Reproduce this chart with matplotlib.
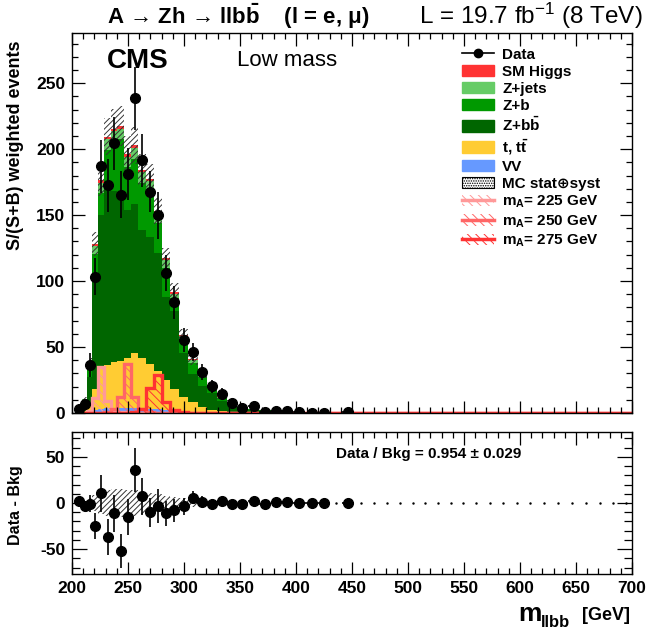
import numpy as np
import matplotlib
matplotlib.use("Agg")
import matplotlib.pyplot as plt
from matplotlib.patches import Patch
from matplotlib.lines import Line2D
from matplotlib.ticker import MultipleLocator

plt.rcParams['font.family'] = ['Liberation Sans', 'DejaVu Sans']
plt.rcParams['mathtext.fontset'] = 'custom'
plt.rcParams['mathtext.rm'] = 'Liberation Sans'
plt.rcParams['mathtext.bf'] = 'Liberation Sans:bold'
plt.rcParams['mathtext.it'] = 'Liberation Sans:italic'
plt.rcParams['axes.unicode_minus'] = False
plt.rcParams['hatch.linewidth'] = 0.7

# bin edges in m_llbb [GeV]
edges = [203.5, 209.0, 213.5, 218.2, 222.9, 228.9, 234.5, 240.5, 246.7, 252.7,
         259.2, 265.8, 273.2, 280.4, 287.5, 295.5, 303.9, 312.2, 320.8, 329.2,
         338.1, 347.0, 357.4, 367.3, 377.4, 387.2, 397.6, 408.0, 419.9, 430.0,
         441.0, 452.0, 464.0, 476.0, 487.0, 499.0, 510.0, 521.0, 533.0, 544.0,
         555.0, 567.0, 579.0, 591.0, 603.0, 615.0, 628.0, 640.0, 653.0, 665.0,
         677.0, 689.0, 700.0]

# background components (first 31 bins, rest empty)
vv = [0.1, 0.3, 0.5, 2, 3, 3.5, 3.5, 3.5, 3.5, 3.5, 3.5, 3.2, 3, 2.5, 2, 1.5,
      1, 0.7, 0.5, 0.3, 0.2, 0.1, 0.1, 0.05, 0.02, 0.01, 0, 0, 0, 0, 0]
ttbar = [0.3, 1.5, 6, 16, 30, 33, 35, 36, 38, 42, 38, 34, 29, 22.5, 16.5, 11,
         7, 3.5, 1.8, 1.2, 0.8, 0.5, 0.3, 0.2, 0.1, 0.05, 0.03, 0.02, 0.01, 0.01, 0]
zbb = [0.8, 6.0, 21, 85, 117, 135, 130, 126, 112, 113, 97, 96, 89, 63, 59, 33,
       21.5, 16.5, 12.5, 7.5, 5.2, 2.9, 1.8, 1.35, 0.7, 0.4, 0.22, 0.2, 0.13, 0.1, 0.07]
zb = [0.2, 2.0, 7.5, 17.5, 17, 28, 37, 42, 33, 34, 36, 34.5, 23, 22, 9.5, 10,
      8.5, 6.7, 4.5, 2.6, 1.8, 1.0, 0.6, 0.45, 0.2, 0.1, 0.07, 0.06, 0.04, 0.03, 0.02]
zjets = [0.1, 0.5, 1.7, 6, 7.5, 8, 8, 8, 7.7, 8.3, 8, 8, 7, 5.9, 3.4, 2.5,
         2.1, 1.8, 1.2, 0.8, 0.6, 0.35, 0.2, 0.15, 0.08, 0.04, 0.03, 0.02, 0.02, 0.01, 0.01]
smh = [0, 0.1, 0.3, 1.5, 1.9, 2, 2.1, 2.1, 2, 2, 2, 2, 1.9, 1.5, 1.2, 0.8,
       0.6, 0.4, 0.3, 0.2, 0.1, 0.05, 0, 0, 0, 0, 0, 0, 0, 0, 0]
bkg_unc = [1, 2, 5, 9, 12, 14, 15, 15, 14, 14, 12, 11, 10, 8, 7, 5, 4, 3, 2.5,
           2, 1.5, 1, 0.8, 0.6, 0.4, 0.3, 0.2, 0.2, 0.15, 0.1, 0.1]

# signal hypotheses
sig225 = [0, 0, 1.5, 11, 35, 9, 2, 1, 0.5]
sig250 = [0, 0, 0, 0, 0, 1, 3, 12, 37.5, 12, 3, 1]
sig275 = [0, 0, 0, 0, 0, 0, 0, 0, 0, 1, 3, 19, 28.5, 8, 2, 1]

# data (weighted), nan = empty bin
data = [3.3, 6.9, 36.3, 103.3, 187.0, 172.6, 204.3, 165.5, 181.0, 238.6, 191.6,
        167.8, 149.7, 106.1, 83.8, 55.3, 46.4, 31.0, 20.1, 14.7, 7.6, 3.8, 5.1,
        0.8, 1.8, 1.3, 0.4, 0.3, 0.3, np.nan, 0.6]
data_err = [2.5, 4, 9, 14, 20, 20, 20, 18, 19.5, 24, 20, 15.6, 18, 13.7, 12.4,
            9, 7, 6, 5, 4, 3, 2.5, 2.5, 1.5, 1.5, 1.5, 1, 1, 1, np.nan, 1]

e = np.array(edges)
nb = len(e) - 1
centers = 0.5 * (e[1:] + e[:-1])
widths = np.diff(e)


def full(vals):
    out = np.zeros(nb)
    out[:len(vals)] = vals
    return out


def full_nan(vals):
    out = np.full(nb, np.nan)
    out[:len(vals)] = vals
    return out


fig = plt.figure(figsize=(6.5, 6.3), dpi=100)
ax = fig.add_axes([72 / 650, 1 - 413 / 630, 560 / 650, 380 / 630])
ax2 = fig.add_axes([72 / 650, 1 - 574 / 630, 560 / 650, 142 / 630])

layers = [(vv, '#6699ff'), (ttbar, '#ffcc33'), (zbb, '#006600'),
          (zb, '#009900'), (zjets, '#66cc66'), (smh, '#ff3333')]
base = np.zeros(nb)
for vals, col in layers:
    top = base + full(vals)
    ax.stairs(top, e, baseline=base, fill=True, color=col, lw=0)
    base = top
total = base

n = len(bkg_unc)
unc = np.array(bkg_unc)
ax.bar(centers[:n], 2 * unc, bottom=total[:n] - unc, width=widths[:n],
       fill=False, hatch='//////', edgecolor='#333333', linewidth=0)

sig_cols = ['#ff9999', '#ff6666', '#ff3333']
for vals, col in zip([sig225, sig250, sig275], sig_cols):
    s = full(vals)
    ax.bar(centers, s, width=widths, facecolor='none', edgecolor=col,
           linewidth=0, hatch='\\\\\\\\')
    ax.stairs(s, e, color=col, lw=2.4)

d = full_nan(data)
derr = full_nan(data_err)
ax.errorbar(centers, d, yerr=derr, xerr=widths / 2, fmt='o', color='k',
            ms=7, elinewidth=1.2, capsize=0)

ax.set_xlim(200, 700)
ax.set_ylim(0, 288)

# lower panel: data - background
ax2.bar(centers[:n], 2 * unc, bottom=-unc, width=widths[:n],
        fill=False, hatch='//////', edgecolor='#333333', linewidth=0)
diff = d - total
has = ~np.isnan(d)
ax2.errorbar(centers[has], diff[has], yerr=derr[has], xerr=widths[has] / 2,
             fmt='o', color='k', ms=7, elinewidth=1.2, capsize=0)
ax2.plot(centers[~has], -total[~has], '.', color='k', ms=1.5)
ax2.set_xlim(200, 700)
ax2.set_ylim(-77, 77)

for a in (ax, ax2):
    a.xaxis.set_major_locator(MultipleLocator(50))
    a.xaxis.set_minor_locator(MultipleLocator(10))
    a.tick_params(which='both', direction='in', top=True, right=True,
                  labelsize=12.5, pad=5)
    a.tick_params(which='major', length=9, width=0.9)
    a.tick_params(which='minor', length=4.5, width=0.9)
    for sp in a.spines.values():
        sp.set_linewidth(1.0)
ax.yaxis.set_major_locator(MultipleLocator(50))
ax.yaxis.set_minor_locator(MultipleLocator(10))
ax.tick_params(labelbottom=False)
ax2.yaxis.set_major_locator(MultipleLocator(50))
ax2.yaxis.set_minor_locator(MultipleLocator(10))
ax2.tick_params(axis='y', which='major', length=11)
ax2.tick_params(axis='y', which='minor', length=6)
for a in (ax, ax2):
    for lab in a.get_xticklabels() + a.get_yticklabels():
        lab.set_fontweight('bold')

# legend
handles = [Line2D([], [], color='k', marker='o', ms=6, lw=1.2)]
labels = ['Data']
for lab, col in [('SM Higgs', '#ff3333'), ('Z+jets', '#66cc66'),
                 ('Z+b', '#009900'), (r'Z+b$\mathbf{\bar{b}}$', '#006600'),
                 (r't, t$\mathbf{\bar{t}}$', '#ffcc33'), ('VV', '#6699ff')]:
    handles.append(Patch(facecolor=col, edgecolor=col))
    labels.append(lab)
handles.append(Patch(facecolor='white', edgecolor='k', hatch='.......', lw=0.8))
labels.append('MC stat\u2295syst')
for mass, col in zip([225, 250, 275], sig_cols):
    handles.append((Patch(facecolor='none', edgecolor=col, hatch='\\\\\\\\', lw=0),
                    Line2D([], [], color=col, lw=2.5)))
    labels.append(r'm$_{\mathbf{A}}$= %d GeV' % mass)
leg = ax.legend(handles, labels, loc='upper left', bbox_to_anchor=(0.682, 0.982),
                frameon=False, borderpad=0, handlelength=2.15, handleheight=0.78,
                handletextpad=0.5, labelspacing=0.2,
                prop={'weight': 'bold', 'size': 11})

# text
fig.text(107 / 650, 1 - 24 / 630, r'A → Zh → llb$\mathbf{\bar{b}}$    (l = e, μ)',
         fontsize=16, fontweight='bold', ha='left', va='baseline')
fig.text(643 / 650, 1 - 24 / 630, r'L = 19.7 fb$^{-1}$ (8 TeV)',
         fontsize=17.5, ha='right', va='baseline')
fig.text(107 / 650, 1 - 68 / 630, 'CMS', fontsize=20, fontweight='bold',
         ha='left', va='baseline')
fig.text(237 / 650, 1 - 66 / 630, 'Low mass', fontsize=16, ha='left', va='baseline')
fig.text(336 / 650, 1 - 458 / 630, 'Data / Bkg = 0.954 ± 0.029', fontsize=11,
         fontweight='bold', ha='left', va='baseline')
fig.text(16 / 650, 1 - 40 / 630, 'S/(S+B) weighted events', rotation=90,
         fontsize=13, fontweight='bold', ha='center', va='top')
fig.text(16 / 650, 1 - 505 / 630, 'Data - Bkg', rotation=90, fontsize=11.5,
         fontweight='bold', ha='center', va='center')
fig.text(518 / 650, 1 - 621 / 630, 'm', fontsize=19, fontweight='bold',
         ha='left', va='baseline')
fig.text(541 / 650, 1 - 627 / 630, 'llbb', fontsize=12, fontweight='bold',
         ha='left', va='baseline')
fig.text(630 / 650, 1 - 620 / 630, '[GeV]', fontsize=13, fontweight='bold',
         ha='right', va='baseline')

fig.savefig('out.png', dpi=100)
